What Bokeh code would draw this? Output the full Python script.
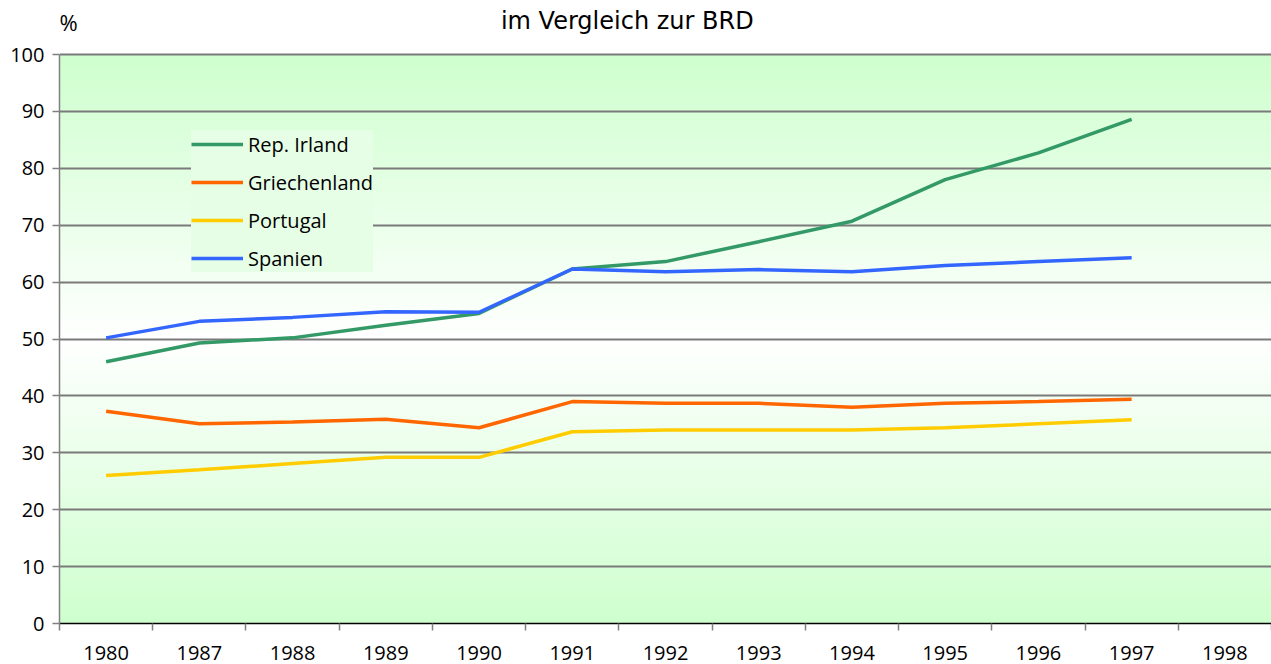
import numpy as np
from bokeh.plotting import figure
from bokeh.models import Range1d, FixedTicker, Legend, LegendItem, Label
from bokeh.embed import file_html
from bokeh.resources import INLINE

years = ["1980", "1987", "1988", "1989", "1990", "1991", "1992", "1993",
         "1994", "1995", "1996", "1997", "1998"]
irland = [46.0, 49.3, 50.2, 52.4, 54.5, 62.3, 63.6, 67.1, 70.7, 78.0, 82.7, 88.6]
griechenland = [37.3, 35.1, 35.4, 35.9, 34.4, 39.0, 38.7, 38.7, 38.0, 38.7, 39.0, 39.4]
portugal = [26.0, 27.0, 28.1, 29.2, 29.2, 33.7, 34.0, 34.0, 34.0, 34.4, 35.1, 35.8]
spanien = [50.2, 53.1, 53.8, 54.8, 54.7, 62.3, 61.8, 62.2, 61.8, 62.9, 63.6, 64.3]
y_ticks = list(range(0, 101, 10))

series = [("Rep. Irland", irland, "#339966"),
          ("Griechenland", griechenland, "#FF6600"),
          ("Portugal", portugal, "#FFCC00"),
          ("Spanien", spanien, "#3366FF")]

FONT = "Open Sans"
n = len(years)

# layout: the frame reaches the top of the canvas so the headline texts are
# drawn inside it; the value axis itself stops at 100.
frame_h = 623          # px from canvas top to the x axis
top_gap = 54           # px between canvas top and the 100 line
y_top = 100 * frame_h / (frame_h - top_gap)

p = figure(width=1271, height=664, output_backend="svg", toolbar_location=None,
           x_range=Range1d(-0.5, n - 0.5), y_range=Range1d(0, y_top),
           min_border_left=59, min_border_right=0, min_border_top=0,
           min_border_bottom=664 - frame_h)
p.outline_line_color = None
p.background_fill_color = "white"
p.border_fill_color = "white"

# gradient background (green at top/bottom, white in the middle)
rows = 201
vals = np.linspace(0, 100, rows)
t = np.abs(vals - 50) / 50.0
img = np.empty((rows, 2), dtype=np.uint32)
view = img.view(dtype=np.uint8).reshape((rows, 2, 4))
rb = (255 - 48 * t).astype(np.uint8)
for c in range(2):
    view[:, c, 0] = rb
    view[:, c, 1] = 255
    view[:, c, 2] = rb
    view[:, c, 3] = 255
p.image_rgba(image=[img], x=-0.5, y=0, dw=n, dh=100, level="image")

# axes
p.xaxis.ticker = FixedTicker(ticks=list(range(n)),
                             minor_ticks=[i - 0.5 for i in range(n + 1)])
p.xaxis.major_label_overrides = {i: y for i, y in enumerate(years)}
p.xaxis.major_tick_out = 0
p.xaxis.major_tick_in = 0
p.xaxis.minor_tick_out = 7
p.xaxis.minor_tick_in = 0
p.xaxis.minor_tick_line_color = "#808080"
p.xaxis.minor_tick_line_width = 1.5
p.xaxis.axis_line_color = "black"
p.xaxis.axis_line_width = 1.5
p.xaxis.major_label_standoff = 15

p.yaxis.ticker = FixedTicker(ticks=y_ticks)
p.yaxis.bounds = (0, 100)
p.yaxis.major_tick_out = 7
p.yaxis.major_tick_in = 0
p.yaxis.minor_tick_line_color = None
p.yaxis.major_tick_line_color = "#808080"
p.yaxis.major_tick_line_width = 1.5
p.yaxis.axis_line_color = "#808080"
p.yaxis.axis_line_width = 1.5
p.yaxis.major_label_standoff = 8

for ax in (p.xaxis, p.yaxis):
    ax.major_label_text_font = FONT
    ax.major_label_text_font_size = "20px"
    ax.major_label_text_color = "black"

p.xgrid.grid_line_color = None
p.ygrid.ticker = FixedTicker(ticks=y_ticks)
p.ygrid.grid_line_color = "#7a7a7a"
p.ygrid.grid_line_width = 2

items = []
for name, data, color in series:
    r = p.line(list(range(len(data))), data, line_color=color, line_width=3.5)
    items.append(LegendItem(label=name, renderers=[r]))

legend = Legend(items=items, location=(132, 351), orientation="vertical",
                label_text_font=FONT, label_text_font_size="20px",
                label_text_color="black", glyph_width=52, glyph_height=28,
                label_height=28, spacing=10, padding=10, margin=0,
                label_standoff=5, border_line_color=None,
                background_fill_color="#e6fde6", background_fill_alpha=1.0)
p.add_layout(legend, "center")

title = Label(x=5.59, y=100, y_offset=34, text="im Vergleich zur BRD",
              text_font="DejaVu Sans", text_font_size="24px",
              text_align="center", text_baseline="middle", text_color="black")
pct = Label(x=-0.5, y=100, x_offset=0, y_offset=33, text="%",
            text_font=FONT, text_font_size="22px", text_align="left",
            text_baseline="middle", text_color="black")
p.add_layout(title)
p.add_layout(pct)

open("out.html", "w").write(file_html(p, INLINE))
